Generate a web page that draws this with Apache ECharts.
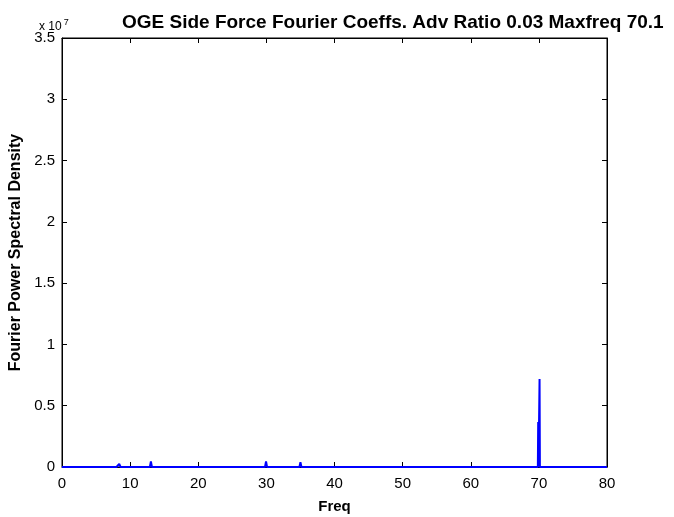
<!DOCTYPE html>
<html>
<head>
<meta charset="utf-8">
<script src="https://cdn.jsdelivr.net/npm/echarts@6/dist/echarts.min.js"></script>
<style>html,body{margin:0;padding:0;background:#fff;}#c{width:674px;height:517px;}</style>
</head>
<body>
<div id="c"></div>
<script>
// Spectrum samples: frequency (Hz) and Fourier power spectral density
const freqs = [0, 6.5, 6.65, 6.8, 7.6, 7.8, 8.0, 8.2, 8.4, 8.6, 12.9, 13.05, 13.2, 29.8, 29.95, 30.1, 34.85, 35.0, 35.15, 69.85, 69.9, 69.95, 70.05, 70.1, 70.15, 80];
const psd   = [0, 0, 1.2e5, 0, 0, 1.5e5, 0, 0, 2.5e5, 0, 0, 4.5e5, 0, 0, 4.5e5, 0, 0, 4.0e5, 0, 0, 3.67e6, 3.0e4, 3.0e4, 7.18e6, 0, 0];
const xTicks = [0, 10, 20, 30, 40, 50, 60, 70, 80];
const yTicks = [0, 0.5, 1, 1.5, 2, 2.5, 3, 3.5]; // ×10^7

const data = freqs.map((f, i) => [f, psd[i]]);
const font = 'Liberation Sans, Arial, sans-serif';

function axLine() { return { show: true, onZero: false, lineStyle: { color: '#000', width: 1 } }; }
function tickIn() { return { show: true, inside: true, length: 5, lineStyle: { color: '#000', width: 1 } }; }

const chart = echarts.init(document.getElementById('c'));
chart.setOption({
  animation: false,
  backgroundColor: '#fff',
  title: [{
    text: 'OGE Side Force Fourier Coeffs. Adv Ratio 0.03 Maxfreq 70.1',
    left: 117, top: 8,
    textStyle: { fontFamily: font, fontSize: 19, fontWeight: 'bold', color: '#000' }
  }, {
    text: 'x 10{s|7}',
    left: 34, top: 13,
    textStyle: { fontFamily: font, fontSize: 12, fontWeight: 'normal', color: '#000',
      rich: { s: { fontFamily: font, fontSize: 9, verticalAlign: 'top', padding: [0, 0, 8, 2] } } }
  }],
  grid: { left: 62, right: 67, top: 38, bottom: 50, containLabel: false, outerBoundsMode: 'none',
          show: true, borderColor: '#000', borderWidth: 1, backgroundColor: '#fff' },
  xAxis: [{
    type: 'value', gridIndex: 0, position: 'bottom', min: 0, max: 80, interval: 10,
    name: 'Freq', nameLocation: 'middle', nameGap: 32,
    nameTextStyle: { fontFamily: font, fontSize: 15, fontWeight: 'bold', color: '#000' },
    axisLine: axLine(), axisTick: tickIn(), splitLine: { show: false },
    axisLabel: { fontFamily: font, fontSize: 15, color: '#000', margin: 9,
      formatter: v => xTicks.includes(v) ? String(v) : '' }
  }, {
    type: 'value', gridIndex: 0, show: true, position: 'top', min: 0, max: 80, interval: 10,
    axisLine: axLine(), axisTick: tickIn(), axisLabel: { show: false }, splitLine: { show: false }
  }],
  yAxis: [{
    type: 'value', gridIndex: 0, position: 'left', min: 0, max: 3.5e7, interval: 0.5e7,
    name: 'Fourier Power Spectral Density', nameLocation: 'middle', nameGap: 37,
    nameTextStyle: { fontFamily: font, fontSize: 16, fontWeight: 'bold', color: '#000', padding: [0, 0, 0, 0] },
    axisLine: axLine(), axisTick: tickIn(), splitLine: { show: false },
    axisLabel: { fontFamily: font, fontSize: 15, color: '#000', margin: 7,
      formatter: v => { const t = Math.round(v / 1e6) / 10; return yTicks.includes(t) ? String(t) : ''; } }
  }, {
    type: 'value', gridIndex: 0, show: true, position: 'right', min: 0, max: 3.5e7, interval: 0.5e7,
    axisLine: axLine(), axisTick: tickIn(), axisLabel: { show: false }, splitLine: { show: false }
  }],
  series: [{
    type: 'line', xAxisIndex: 0, yAxisIndex: 0, data: data, showSymbol: false, symbol: 'none',
    lineStyle: { color: '#0000ff', width: 2 }, z: 5
  }]
});
</script>
</body>
</html>
